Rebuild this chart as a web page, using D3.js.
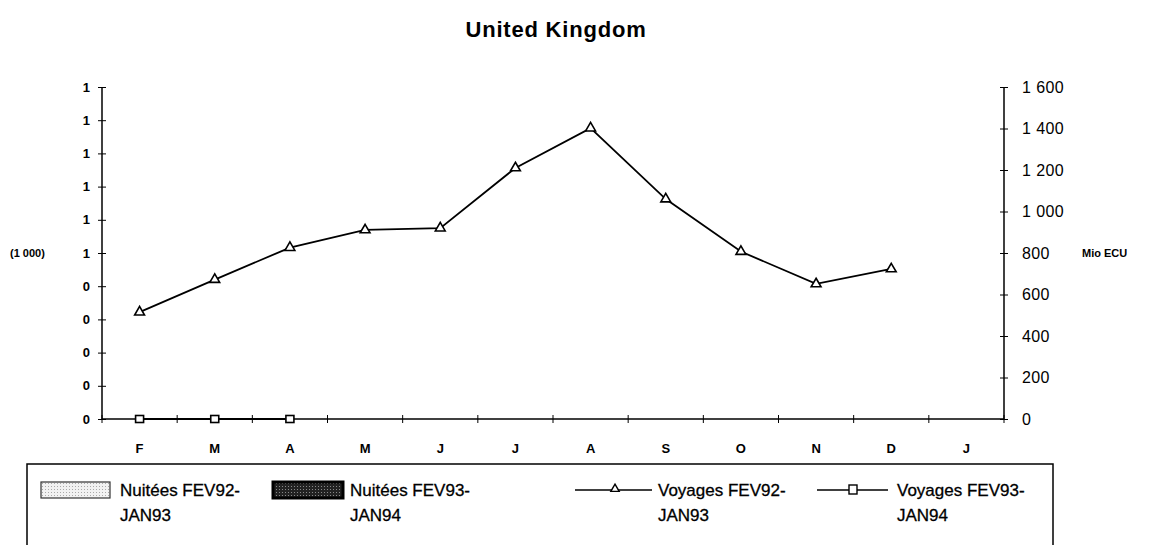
<!DOCTYPE html>
<html>
<head>
<meta charset="utf-8">
<script src="https://cdn.jsdelivr.net/npm/d3@7"></script>
<style>
  body { margin: 0; background: #fff; }
  svg { font-family: "Liberation Sans", Arial, sans-serif; }
</style>
</head>
<body>
<script>
'use strict';

// chart values
const months = ['F', 'M', 'A', 'M', 'J', 'J', 'A', 'S', 'O', 'N', 'D', 'J'];
const voyages92 = [515, 672, 826, 911, 920, 1210, 1402, 1060, 807, 651, 723, null];
const voyages93 = [0, 0, 0, null, null, null, null, null, null, null, null, null];
const rightTicks = [0, 200, 400, 600, 800, 1000, 1200, 1400, 1600];
const leftTicks = [0, 0.1, 0.2, 0.3, 0.4, 0.5, 0.6, 0.7, 0.8, 0.9, 1];
const leftTickLabels = ['0', '0', '0', '0', '0', '1', '1', '1', '1', '1', '1'];
const legendLabels = [
  ['Nuitées FEV92-', 'JAN93'],
  ['Nuitées FEV93-', 'JAN94'],
  ['Voyages FEV92-', 'JAN93'],
  ['Voyages FEV93-', 'JAN94']
];

(function() {
  let svg = d3.select('body').append('svg')
    .attr('width', 1158)
    .attr('height', 545);

  let defs = svg.append('defs');
  let p1 = defs.append('pattern').attr('id', 'light').attr('width', 3).attr('height', 3)
    .attr('patternUnits', 'userSpaceOnUse');
  p1.append('rect').attr('width', 3).attr('height', 3).attr('fill', '#f2f2f2');
  p1.append('rect').attr('width', 1).attr('height', 1).attr('fill', '#aaa');
  let p2 = defs.append('pattern').attr('id', 'dark').attr('width', 3).attr('height', 3)
    .attr('patternUnits', 'userSpaceOnUse');
  p2.append('rect').attr('width', 3).attr('height', 3).attr('fill', '#222');
  p2.append('rect').attr('width', 1).attr('height', 1).attr('fill', '#888');

  let x = d3.scaleBand().domain(d3.range(months.length)).range([102, 1004]);
  let yRight = d3.scaleLinear().domain([0, 1600]).range([419, 87]);
  let yLeft = d3.scaleLinear().domain([0, 1]).range([419, 87]);

  // title
  svg.append('text')
    .attr('x', 556).attr('y', 37)
    .attr('text-anchor', 'middle')
    .style('font-size', '22px').style('font-weight', 'bold')
    .style('letter-spacing', '0.8px')
    .text('United Kingdom');

  // left axis
  let leftAxis = d3.axisLeft(yLeft).tickValues(leftTicks).tickSize(4)
    .tickFormat((d, i) => leftTickLabels[i]);
  let gl = svg.append('g').attr('transform', 'translate(102,0)').call(leftAxis);
  gl.select('.domain').remove();
  gl.selectAll('.tick text').attr('x', -12)
    .style('font-size', '13px').style('font-weight', 'bold').style('font-family', '"Liberation Sans", Arial');
  gl.selectAll('.tick').append('line').attr('x2', 4).attr('stroke', '#000');
  gl.append('line').attr('y1', yLeft(0)).attr('y2', yLeft(1)).attr('stroke', '#000').attr('stroke-width', 1.5);

  svg.append('text')
    .attr('x', 10).attr('y', yLeft(0.5) + 4)
    .style('font-size', '11px').style('font-weight', 'bold')
    .text('(1 000)');

  // right axis
  let rightAxis = d3.axisRight(yRight).tickValues(rightTicks).tickSize(4)
    .tickFormat(d => d3.format(',')(d).replace(',', ' '));
  let gr = svg.append('g').attr('transform', 'translate(1004,0)').call(rightAxis);
  gr.select('.domain').remove();
  gr.selectAll('.tick text').attr('x', 18)
    .style('font-size', '16px').style('font-family', '"Liberation Sans", Arial')
    .style('letter-spacing', '0.4px');
  gr.selectAll('.tick').append('line').attr('x2', -4).attr('stroke', '#000');
  gr.append('line').attr('y1', yRight(0)).attr('y2', yRight(1600)).attr('stroke', '#000').attr('stroke-width', 1.5);

  svg.append('text')
    .attr('x', 1082).attr('y', yRight(800) + 4)
    .style('font-size', '11px').style('font-weight', 'bold')
    .text('Mio ECU');

  // x axis
  let gx = svg.append('g');
  gx.append('line')
    .attr('x1', x.range()[0]).attr('x2', x.range()[1])
    .attr('y1', yRight(0)).attr('y2', yRight(0))
    .attr('stroke', '#000').attr('stroke-width', 1.5);
  let bounds = d3.range(months.length + 1).map(i => x.range()[0] + i * x.step());
  gx.selectAll('.xt').data(bounds).enter().append('line')
    .attr('x1', d => d).attr('x2', d => d)
    .attr('y1', yRight(0) - 4).attr('y2', yRight(0) + 4)
    .attr('stroke', '#000');
  gx.selectAll('.xl').data(months).enter().append('text')
    .attr('x', (d, i) => x(i) + x.bandwidth() / 2)
    .attr('y', yRight(0) + 34)
    .attr('text-anchor', 'middle')
    .style('font-size', '13px').style('font-weight', 'bold')
    .text(d => d);

  // lines
  let line92 = d3.line()
    .defined(d => d != null)
    .x((d, i) => x(i) + x.bandwidth() / 2)
    .y(d => yRight(d));
  svg.append('path').datum(voyages92)
    .attr('d', line92).attr('fill', 'none').attr('stroke', '#000').attr('stroke-width', 1.8);
  svg.append('path').datum(voyages93)
    .attr('d', line92).attr('fill', 'none').attr('stroke', '#000').attr('stroke-width', 1.8);

  let tri = d3.symbol().type(d3.symbolTriangle).size(42);
  svg.selectAll('.tri').data(voyages92.map((v, i) => [v, i]).filter(d => d[0] != null))
    .enter().append('path')
    .attr('d', tri)
    .attr('transform', d => 'translate(' + (x(d[1]) + x.bandwidth() / 2) + ',' + yRight(d[0]) + ')')
    .attr('fill', '#fff').attr('stroke', '#000').attr('stroke-width', 1.6);

  svg.selectAll('.sq').data(voyages93.map((v, i) => [v, i]).filter(d => d[0] != null))
    .enter().append('rect')
    .attr('x', d => x(d[1]) + x.bandwidth() / 2 - 4)
    .attr('y', d => yRight(d[0]) - 3.5)
    .attr('width', 8).attr('height', 7)
    .attr('fill', '#fff').attr('stroke', '#000').attr('stroke-width', 1.6);

  // legend
  svg.append('rect')
    .attr('x', 27).attr('y', 464).attr('width', 1026).attr('height', 100)
    .attr('fill', 'none').attr('stroke', '#000').attr('stroke-width', 1.5);

  let legendX = [41, 273, 575, 817];
  let textX = [120, 350, 658, 897];
  svg.append('rect').attr('x', legendX[0]).attr('y', 482).attr('width', 69).attr('height', 16)
    .attr('fill', 'url(#light)').attr('stroke', '#333').attr('stroke-width', 1.2);
  svg.append('rect').attr('x', legendX[1]).attr('y', 482).attr('width', 70).attr('height', 16)
    .attr('fill', 'url(#dark)').attr('stroke', '#000').attr('stroke-width', 3);

  svg.append('line').attr('x1', legendX[2]).attr('x2', 652).attr('y1', 490).attr('y2', 490)
    .attr('stroke', '#000').attr('stroke-width', 1.5);
  svg.append('path').attr('d', d3.symbol().type(d3.symbolTriangle).size(30))
    .attr('transform', 'translate(615,489)')
    .attr('fill', '#fff').attr('stroke', '#000').attr('stroke-width', 1.4);
  svg.append('line').attr('x1', legendX[3]).attr('x2', 888).attr('y1', 490).attr('y2', 490)
    .attr('stroke', '#000').attr('stroke-width', 1.5);
  svg.append('rect').attr('x', 849).attr('y', 485).attr('width', 8).attr('height', 9)
    .attr('fill', '#fff').attr('stroke', '#000').attr('stroke-width', 1.4);

  legendLabels.forEach((lines, i) => {
    let t = svg.append('text')
      .attr('x', textX[i]).attr('y', 496)
      .style('font-size', '17px')
      .attr('stroke', '#000').attr('stroke-width', 0.3);
    t.append('tspan').attr('x', textX[i]).text(lines[0]);
    t.append('tspan').attr('x', textX[i]).attr('dy', 25).text(lines[1]);
  });
})();
</script>
</body>
</html>
